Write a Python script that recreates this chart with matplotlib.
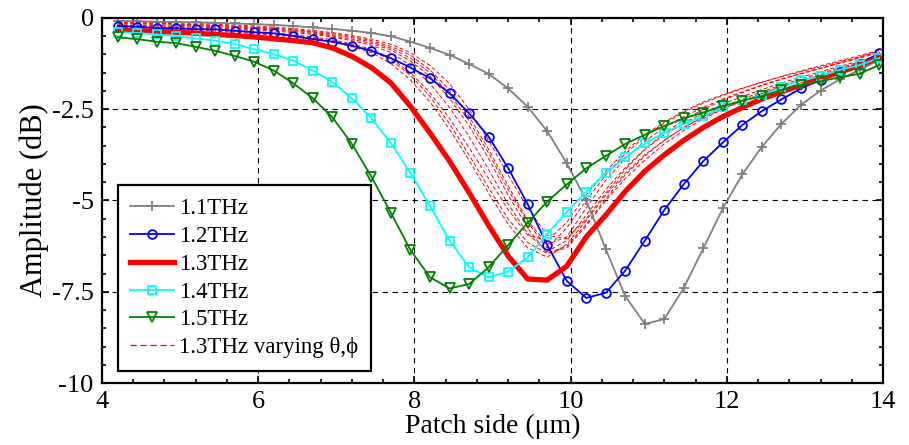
import numpy as np
import matplotlib
matplotlib.use('Agg')
from matplotlib import pyplot as plt
from matplotlib.lines import Line2D
from matplotlib.ticker import MultipleLocator

plt.rcParams['font.family'] = ['Liberation Serif', 'DejaVu Serif']
plt.rcParams['axes.unicode_minus'] = False

# patch side (um)
side = [4.2, 4.45, 4.7, 4.95, 5.2, 5.45, 5.7, 5.95, 6.2, 6.45,
        6.7, 6.95, 7.2, 7.45, 7.7, 7.95, 8.2, 8.45, 8.7, 8.95,
        9.2, 9.45, 9.7, 9.95, 10.2, 10.45, 10.7, 10.95, 11.2, 11.45,
        11.7, 11.95, 12.2, 12.45, 12.7, 12.95, 13.2, 13.45, 13.7, 13.95]

amp_11 = [-0.08, -0.09, -0.10, -0.11, -0.12, -0.13, -0.15, -0.17, -0.19, -0.22,
          -0.26, -0.30, -0.35, -0.41, -0.50, -0.65, -0.82, -1.01, -1.26, -1.53,
          -1.93, -2.43, -3.10, -3.98, -4.99, -6.33, -7.62, -8.38, -8.25, -7.39,
          -6.31, -5.21, -4.28, -3.53, -2.90, -2.38, -1.99, -1.68, -1.42, -1.15]
amp_12 = [-0.22, -0.24, -0.28, -0.28, -0.31, -0.31, -0.35, -0.39, -0.42, -0.49,
          -0.58, -0.65, -0.76, -0.90, -1.10, -1.36, -1.65, -2.06, -2.61, -3.25,
          -4.11, -5.10, -6.22, -7.20, -7.67, -7.53, -6.92, -6.10, -5.26, -4.55,
          -3.92, -3.41, -2.93, -2.55, -2.23, -1.93, -1.70, -1.48, -1.25, -0.97]
amp_13 = [-0.33, -0.35, -0.37, -0.39, -0.42, -0.45, -0.48, -0.52, -0.57, -0.62,
          -0.68, -0.82, -1.05, -1.36, -1.78, -2.42, -3.15, -3.92, -4.78, -5.68,
          -6.52, -7.15, -7.18, -6.80, -6.00, -5.40, -4.75, -4.20, -3.75, -3.35,
          -3.00, -2.70, -2.45, -2.22, -2.02, -1.84, -1.66, -1.48, -1.30, -1.08]
amp_14 = [-0.39, -0.41, -0.45, -0.50, -0.56, -0.62, -0.71, -0.86, -0.99, -1.17,
          -1.44, -1.75, -2.20, -2.75, -3.43, -4.25, -5.15, -6.10, -6.83, -7.10,
          -6.95, -6.56, -5.92, -5.32, -4.76, -4.24, -3.82, -3.43, -3.14, -2.90,
          -2.68, -2.43, -2.25, -2.11, -1.90, -1.70, -1.59, -1.42, -1.29, -1.10]
amp_15 = [-0.53, -0.58, -0.65, -0.69, -0.79, -0.90, -1.04, -1.20, -1.44, -1.79,
          -2.20, -2.72, -3.45, -4.35, -5.34, -6.36, -7.10, -7.41, -7.29, -6.83,
          -6.22, -5.61, -5.03, -4.56, -4.12, -3.78, -3.45, -3.20, -2.96, -2.75,
          -2.59, -2.41, -2.27, -2.14, -1.97, -1.84, -1.74, -1.62, -1.53, -1.29]

# 1.3 THz at other incidence angles
dashed_a = [-0.25, -0.27, -0.29, -0.31, -0.33, -0.36, -0.39, -0.43, -0.47, -0.52,
            -0.58, -0.66, -0.78, -0.95, -1.25, -1.70, -2.30, -3.05, -3.90, -4.80,
            -5.65, -6.30, -6.55, -6.20, -5.55, -4.85, -4.25, -3.75, -3.35, -3.00,
            -2.72, -2.48, -2.27, -2.07, -1.88, -1.72, -1.57, -1.42, -1.27, -1.10]
dashed_b = [-0.18, -0.20, -0.21, -0.23, -0.25, -0.27, -0.30, -0.33, -0.36, -0.40,
            -0.45, -0.52, -0.62, -0.75, -0.95, -1.30, -1.80, -2.45, -3.25, -4.15,
            -5.10, -5.90, -6.40, -6.10, -5.40, -4.70, -4.10, -3.60, -3.20, -2.88,
            -2.60, -2.36, -2.15, -1.96, -1.78, -1.62, -1.47, -1.32, -1.18, -1.02]
dashed_c = [-0.12, -0.13, -0.14, -0.16, -0.18, -0.20, -0.22, -0.25, -0.28, -0.32,
            -0.37, -0.43, -0.51, -0.62, -0.78, -1.02, -1.42, -1.98, -2.70, -3.60,
            -4.60, -5.55, -6.20, -6.00, -5.20, -4.45, -3.85, -3.38, -3.00, -2.70,
            -2.45, -2.22, -2.02, -1.84, -1.67, -1.52, -1.38, -1.24, -1.10, -0.95]
dashed_d = [-0.10, -0.11, -0.12, -0.13, -0.15, -0.17, -0.19, -0.22, -0.25, -0.29,
            -0.34, -0.40, -0.48, -0.58, -0.72, -0.95, -1.30, -1.80, -2.50, -3.35,
            -4.30, -5.20, -5.95, -6.05, -5.50, -4.80, -4.15, -3.60, -3.15, -2.80,
            -2.50, -2.25, -2.04, -1.85, -1.68, -1.53, -1.38, -1.23, -1.08, -0.92]
dashed_e = [-0.20, -0.22, -0.24, -0.26, -0.28, -0.31, -0.34, -0.37, -0.41, -0.46,
            -0.52, -0.60, -0.71, -0.86, -1.10, -1.50, -2.05, -2.75, -3.55, -4.40,
            -5.25, -5.95, -6.10, -5.60, -4.85, -4.20, -3.65, -3.20, -2.85, -2.55,
            -2.30, -2.10, -1.92, -1.76, -1.61, -1.47, -1.34, -1.20, -1.06, -0.90]
dashed_f = [-0.15, -0.16, -0.18, -0.20, -0.22, -0.24, -0.27, -0.30, -0.33, -0.37,
            -0.42, -0.49, -0.58, -0.70, -0.88, -1.18, -1.60, -2.20, -2.95, -3.85,
            -4.85, -5.75, -6.45, -6.30, -5.70, -5.00, -4.40, -3.90, -3.45, -3.08,
            -2.76, -2.50, -2.27, -2.07, -1.88, -1.71, -1.55, -1.40, -1.24, -1.06]
dashed_g = [-0.13, -0.14, -0.15, -0.17, -0.19, -0.21, -0.24, -0.27, -0.30, -0.34,
            -0.39, -0.46, -0.54, -0.66, -0.83, -1.10, -1.50, -2.08, -2.82, -3.70,
            -4.70, -5.60, -6.30, -5.75, -5.00, -4.30, -3.72, -3.25, -2.88, -2.58,
            -2.33, -2.12, -1.93, -1.76, -1.60, -1.45, -1.31, -1.17, -1.03, -0.88]
dashed_h = [-0.22, -0.24, -0.26, -0.28, -0.30, -0.33, -0.36, -0.40, -0.44, -0.49,
            -0.55, -0.63, -0.74, -0.90, -1.15, -1.57, -2.15, -2.90, -3.75, -4.65,
            -5.50, -6.15, -6.45, -6.25, -5.65, -4.95, -4.30, -3.78, -3.35, -3.00,
            -2.70, -2.45, -2.22, -2.02, -1.84, -1.67, -1.51, -1.36, -1.21, -1.04]

fig = plt.figure(figsize=(9.09, 4.45), dpi=100)
ax = fig.add_axes([0.1122, 0.1393, 0.8592, 0.8203])

dash = (0, (4, 2.5))
for d in [dashed_a, dashed_b, dashed_c, dashed_d,
          dashed_e, dashed_f, dashed_g, dashed_h]:
    ax.plot(side, d, color='red', lw=0.7, linestyle=dash, zorder=2)

h11, = ax.plot(side, amp_11, color='#808080', lw=1.3, marker='+', ms=7, mew=1.3)
h12, = ax.plot(side, amp_12, color='#0000ff', lw=1.3, marker='o', ms=6.3, mfc='none', mew=1.3)
h13, = ax.plot(side, amp_13, color='#ff0000', lw=3.8)
h14, = ax.plot(side, amp_14, color='#00ffff', lw=1.3, marker='s', ms=6, mfc='none', mew=1.3)
h15, = ax.plot(side, amp_15, color='#007f00', lw=1.3, marker='v', ms=7, mfc='none', mew=1.3)
hdash = Line2D([], [], color='#ff0000', lw=0.9, linestyle=(0, (5, 3)))

ax.set_xlim(4, 14)
ax.set_ylim(-10, 0)
ax.set_xticks([4, 6, 8, 10, 12, 14])
ax.set_yticks([0, -2.5, -5, -7.5, -10])
ax.set_yticklabels(['0', '-2.5', '-5', '-7.5', '-10'])
ax.xaxis.set_minor_locator(MultipleLocator(0.4))
ax.yaxis.set_minor_locator(MultipleLocator(0.5))
ax.tick_params(which='both', direction='in', top=True, right=True, labelsize=19, width=1.2)
ax.tick_params(which='major', length=5, pad=6)
ax.tick_params(which='minor', length=3)
for s in ax.spines.values():
    s.set_linewidth(1.6)
ax.set_axisbelow(True)
ax.grid(True, which='major', color='black', linestyle=(0, (5, 4)), lw=0.8)

ax.set_xlabel('Patch side (μm)', fontsize=20, labelpad=0)
ax.set_ylabel('Amplitude (dB)', fontsize=22, labelpad=2)

labels = ['1.1THz', '1.2THz', '1.3THz', '1.4THz', '1.5THz', '1.3THz varying θ,ϕ']
leg = ax.legend([h11, h12, h13, h14, h15, hdash], labels, loc='lower left',
                bbox_to_anchor=(0.02, 0.033), borderaxespad=0, fontsize=16.5,
                handlelength=1.9, handletextpad=0.25, labelspacing=0.3,
                borderpad=0.55, fancybox=False, framealpha=1, edgecolor='black')
leg.get_frame().set_linewidth(1.6)

fig.savefig('out.png', dpi=100)
